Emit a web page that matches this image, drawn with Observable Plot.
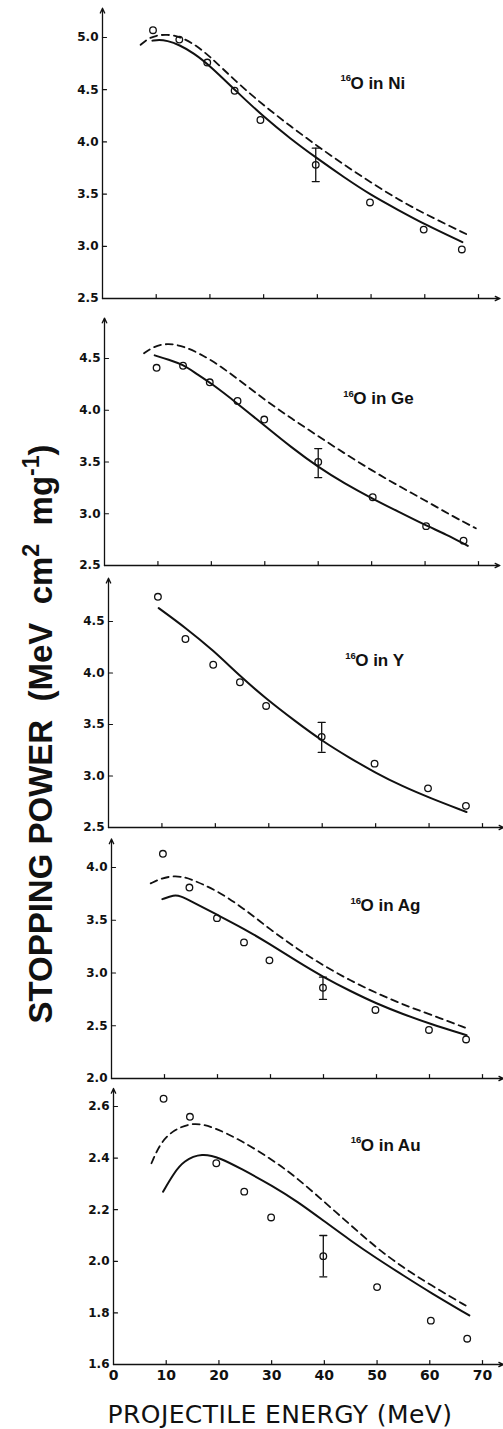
<!DOCTYPE html>
<html>
<head>
<meta charset="utf-8">
<script src="https://cdn.jsdelivr.net/npm/d3@7"></script>
<script src="https://cdn.jsdelivr.net/npm/@observablehq/plot@0.6"></script>
<style>
  html, body { margin: 0; padding: 0; background: #fff; }
  #root { position: relative; width: 503px; height: 1429px; overflow: hidden; background: #fff; }
  #root svg { position: absolute; left: 0; }
  #ytitle { position: absolute; left: 40px; top: 734px; transform: translate(-50%, -50%) rotate(-90deg);
    white-space: pre; font-family: "Liberation Sans", Arial, sans-serif; font-weight: bold; font-size: 33px; color: #111; line-height: 1; z-index: 5; }
  #ytitle sup { font-size: 0.7em; vertical-align: 0.55em; line-height: 0; }
  #xtitle { position: absolute; left: 280px; top: 1402px; transform: translateX(-50%); white-space: pre;
    font-family: "DejaVu Sans", sans-serif; font-size: 25px; line-height: 25px; color: #111; letter-spacing: 0.4px; z-index: 5; }
</style>
</head>
<body>
<div id="root">
  <div id="ytitle">STOPPING POWER  (MeV  cm<sup>2</sup>  mg<sup>-1</sup>)</div>
  <div id="xtitle">PROJECTILE ENERGY (MeV)</div>
</div>
<script>
// ---------- data ----------
const xTickValues = [10, 20, 30, 40, 50, 60, 70];
const xTickLabels = [0, 10, 20, 30, 40, 50, 60, 70];
const isotope = "16";

// 16O in Ni
const niLabel = "O in Ni";
const niE = [9.4, 14.3, 19.5, 24.6, 29.4, 39.7, 49.8, 59.8, 66.9];
const niS = [5.07, 4.98, 4.76, 4.49, 4.21, 3.78, 3.42, 3.16, 2.97];
const niErr = [39.7, 3.62, 3.94];
const niSolidE = [9.3, 10.5, 12, 14.3, 17, 20, 25, 30, 35, 40, 45, 50, 55, 60, 67];
const niSolidS = [4.97, 4.98, 4.97, 4.93, 4.85, 4.73, 4.48, 4.24, 4.03, 3.84, 3.66, 3.49, 3.35, 3.21, 3.04];
const niDashE = [7.1, 8.5, 10, 12, 14.3, 17, 20, 25, 30, 35, 40, 45, 50, 55, 60, 68];
const niDashS = [4.93, 4.99, 5.02, 5.03, 5.01, 4.94, 4.82, 4.57, 4.35, 4.15, 3.96, 3.78, 3.61, 3.45, 3.31, 3.11];
const niTicks = [2.5, 3.0, 3.5, 4.0, 4.5, 5.0];

// 16O in Ge
const geLabel = "O in Ge";
const geE = [9.75, 14.7, 19.7, 24.9, 29.9, 40, 50.2, 60.2, 67.2];
const geS = [4.41, 4.43, 4.27, 4.09, 3.91, 3.50, 3.16, 2.88, 2.74];
const geErr = [40, 3.35, 3.63];
const geSolidE = [9.4, 12, 14.7, 17, 20, 25, 30, 35, 40, 45, 50, 55, 60, 64, 68];
const geSolidS = [4.53, 4.49, 4.44, 4.36, 4.26, 4.06, 3.85, 3.64, 3.45, 3.29, 3.15, 3.02, 2.89, 2.80, 2.69];
const geDashE = [7.4, 9, 11.6, 15, 20, 25, 30, 35, 40, 45, 50, 55, 60, 65, 69.5];
const geDashS = [4.55, 4.61, 4.65, 4.62, 4.49, 4.30, 4.10, 3.92, 3.75, 3.58, 3.42, 3.27, 3.13, 2.98, 2.86];
const geTicks = [2.5, 3.0, 3.5, 4.0, 4.5];

// 16O in Y
const yLabel = "O in Y";
const yE = [9.25, 14.4, 19.6, 24.6, 29.5, 39.9, 49.8, 59.8, 66.9];
const yS = [4.74, 4.33, 4.08, 3.91, 3.68, 3.38, 3.12, 2.88, 2.71];
const yErr = [39.9, 3.23, 3.52];
const ySolidE = [9.4, 14.4, 19.6, 24.6, 29.5, 35, 40, 45, 50, 55, 60, 67];
const ySolidS = [4.63, 4.44, 4.22, 3.97, 3.75, 3.53, 3.34, 3.18, 3.03, 2.90, 2.79, 2.65];
const yTicks = [2.5, 3.0, 3.5, 4.0, 4.5];

// 16O in Ag
const agLabel = "O in Ag";
const agE = [9.7, 14.7, 19.9, 25, 29.8, 39.9, 49.8, 59.9, 66.9];
const agS = [4.13, 3.81, 3.52, 3.29, 3.12, 2.86, 2.65, 2.46, 2.37];
const agErr = [39.9, 2.75, 2.96];
const agSolidE = [9.6, 11.8, 13, 15, 20, 25, 30, 35, 40, 45, 50, 55, 60, 67];
const agSolidS = [3.70, 3.74, 3.73, 3.68, 3.55, 3.42, 3.27, 3.11, 2.96, 2.83, 2.71, 2.61, 2.52, 2.41];
const agDashE = [7.4, 9.5, 11.8, 13.5, 15, 20, 25, 30, 35, 40, 45, 50, 55, 60, 67.3];
const agDashS = [3.85, 3.90, 3.92, 3.91, 3.89, 3.78, 3.61, 3.41, 3.23, 3.07, 2.93, 2.81, 2.70, 2.61, 2.47];
const agTicks = [2.0, 2.5, 3.0, 3.5, 4.0];

// 16O in Au
const auLabel = "O in Au";
const auE = [9.5, 14.5, 19.5, 24.8, 29.9, 39.8, 50, 60.2, 67.1];
const auS = [2.63, 2.56, 2.38, 2.27, 2.17, 2.02, 1.90, 1.77, 1.70];
const auErr = [39.8, 1.94, 2.10];
const auSolidE = [9.4, 11.4, 13.3, 16.8, 20.3, 24.1, 30.4, 35, 40, 45, 50, 55, 60, 67.5];
const auSolidS = [2.27, 2.34, 2.39, 2.42, 2.40, 2.36, 2.29, 2.23, 2.155, 2.08, 2.01, 1.945, 1.88, 1.79];
const auDashE = [7.2, 8.9, 11.4, 15.2, 19, 24.1, 30.4, 35, 40, 45, 50, 55, 60, 67.5];
const auDashS = [2.38, 2.46, 2.51, 2.54, 2.52, 2.47, 2.39, 2.32, 2.23, 2.14, 2.05, 1.975, 1.91, 1.82];
const auTicks = [1.6, 1.8, 2.0, 2.2, 2.4, 2.6];

// ---------- layout (styles / frame positions) ----------
const panels = [
  {label: niLabel, E: niE, S: niS, err: niErr, sE: niSolidE, sS: niSolidS, dE: niDashE, dS: niDashS, ticks: niTicks,
   domain: [2.5, 5.0], yArrow: 5.28, labelX: 44.3, labelY: 4.56, top: 0, height: 310, mt: 37, mb: 12, ml: 102, mr: 25},
  {label: geLabel, E: geE, S: geS, err: geErr, sE: geSolidE, sS: geSolidS, dE: geDashE, dS: geDashS, ticks: geTicks,
   domain: [2.5, 4.5], yArrow: 4.89, labelX: 44.7, labelY: 4.11, top: 310, height: 265, mt: 48, mb: 10, ml: 104, mr: 25},
  {label: yLabel, E: yE, S: yS, err: yErr, sE: ySolidE, sS: ySolidS, dE: null, dS: null, ticks: yTicks,
   domain: [2.5, 4.5], yArrow: 4.92, labelX: 44.3, labelY: 4.12, top: 575, height: 262, mt: 46, mb: 10, ml: 108, mr: 21},
  {label: agLabel, E: agE, S: agS, err: agErr, sE: agSolidE, sS: agSolidS, dE: agDashE, dS: agDashS, ticks: agTicks,
   domain: [2.0, 4.0], yArrow: 4.27, labelX: 45.1, labelY: 3.64, top: 832, height: 256, mt: 35, mb: 10, ml: 111, mr: 21},
  {label: auLabel, E: auE, S: auS, err: auErr, sE: auSolidE, sS: auSolidS, dE: auDashE, dS: auDashS, ticks: auTicks,
   domain: [1.6, 2.6], yArrow: 2.67, labelX: 45.0, labelY: 2.45, top: 1085, height: 344, mt: 21, mb: 65, ml: 113, mr: 21, bottom: true}
];

const ink = "#111";
const lineShape = {draw(context, l) { context.moveTo(0, 0); context.lineTo(0, -l); }};
const tickFont = "DejaVu Sans, sans-serif";
const labelFont = "Liberation Sans, Arial, sans-serif";

function makePanel(p) {
  const pts = p.E.map((e, i) => ({e, s: p.S[i]}));
  const solid = p.sE.map((e, i) => ({e, s: p.sS[i]}));
  const dashed = p.dE ? p.dE.map((e, i) => ({e, s: p.dS[i]})) : [];
  const err = [{e: p.err[0], lo: p.err[1], hi: p.err[2]}];
  const y0 = p.domain[0];
  const marks = [
    Plot.arrow([0], {x1: 0, x2: 0, y1: y0, y2: p.yArrow, headLength: 6, headAngle: 50, stroke: ink, strokeWidth: 1.3}),
    Plot.arrow([0], {x1: 0, x2: 74, y1: y0, y2: y0, headLength: 6, headAngle: 50, stroke: ink, strokeWidth: 1.3}),
    Plot.vector(xTickValues, {x: d => d, y: y0, length: 4, rotate: 0, anchor: "start", shape: lineShape, stroke: ink, strokeWidth: 1.2}),
    Plot.vector(p.ticks, {x: 0, y: d => d, length: 4, rotate: 90, anchor: "start", shape: lineShape, stroke: ink, strokeWidth: 1.2}),
    Plot.axisY({ticks: p.ticks, tickSize: 0, tickPadding: 4, tickFormat: d3.format(".1f"), label: null,
      fontSize: 12, fontWeight: "bold", fontFamily: tickFont, fill: ink}),
    Plot.line(solid, {x: "e", y: "s", curve: "basis", stroke: ink, strokeWidth: 2}),
    Plot.line(dashed, {x: "e", y: "s", curve: "basis", stroke: ink, strokeWidth: 1.8, strokeDasharray: "7,5"}),
    Plot.ruleX(err, {x: "e", y1: "lo", y2: "hi", stroke: ink, strokeWidth: 1.3}),
    Plot.vector(err, {x: "e", y: "lo", length: 7, rotate: 90, anchor: "middle", shape: lineShape, stroke: ink, strokeWidth: 1.3}),
    Plot.vector(err, {x: "e", y: "hi", length: 7, rotate: 90, anchor: "middle", shape: lineShape, stroke: ink, strokeWidth: 1.3}),
    Plot.dot(pts, {x: "e", y: "s", r: 3.3, stroke: ink, strokeWidth: 1.3, fill: "none"}),
    // panel label: superscript mass number + "O in X"
    Plot.text([isotope], {x: p.labelX, y: p.labelY, text: d => d, textAnchor: "start", dy: -5, fontSize: 9.5,
      fontWeight: "bold", fontFamily: labelFont, fill: ink}),
    Plot.text([p.label], {x: p.labelX, y: p.labelY, text: d => d, textAnchor: "start", dx: 10, fontSize: 17,
      fontWeight: "bold", fontFamily: labelFont, fill: ink})
  ];
  if (p.bottom) {
    marks.push(Plot.axisX({ticks: xTickLabels, tickSize: 0, tickPadding: 6, tickFormat: d => String(d), label: null,
      fontSize: 14, fontWeight: "bold", fontFamily: tickFont, fill: ink}));
  }
  const svg = Plot.plot({
    width: 503, height: p.height,
    marginTop: p.mt, marginBottom: p.mb, marginLeft: p.ml, marginRight: p.mr,
    x: {domain: [0, 70], label: null, axis: p.bottom ? undefined : null},
    y: {domain: p.domain, label: null},
    style: {background: "transparent", overflow: "visible"},
    marks
  });
  svg.style.top = p.top + "px";
  return svg;
}

const root = document.getElementById("root");
for (const p of panels) root.appendChild(makePanel(p));
</script>
</body>
</html>
